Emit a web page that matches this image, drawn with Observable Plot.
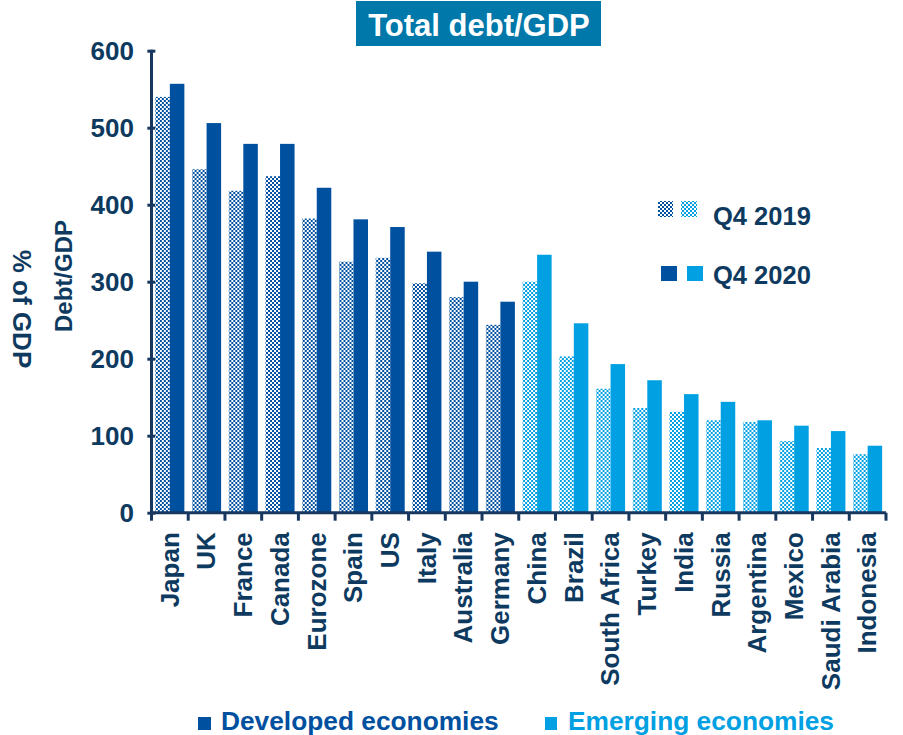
<!DOCTYPE html>
<html>
<head>
<meta charset="utf-8">
<script src="https://cdn.jsdelivr.net/npm/d3@7"></script>
<script src="https://cdn.jsdelivr.net/npm/@observablehq/plot@0.6"></script>
<style>
  body { margin: 0; background: #fff; }
  #wrap { position: relative; width: 903px; height: 735px; font-family: "Liberation Sans", Arial, sans-serif; }
  #overlay { position: absolute; left: 0; top: 0; pointer-events: none; }
</style>
</head>
<body>
<div id="wrap">
  <svg width="0" height="0" style="position:absolute">
    <defs>
      <pattern id="chkDev" width="4" height="4" patternUnits="userSpaceOnUse">
        <rect width="4" height="4" fill="#ffffff"/>
        <rect width="2" height="2" fill="#0050a0"/>
        <rect x="2" y="2" width="2" height="2" fill="#0050a0"/>
      </pattern>
      <pattern id="chkEm" width="4" height="4" patternUnits="userSpaceOnUse">
        <rect width="4" height="4" fill="#ffffff"/>
        <rect width="2" height="2" fill="#00a0e2"/>
        <rect x="2" y="2" width="2" height="2" fill="#00a0e2"/>
      </pattern>
    </defs>
  </svg>
  <div id="chart"></div>
</div>
<script>
const countries = ["Japan","UK","France","Canada","Eurozone","Spain","US","Italy","Australia","Germany",
  "China","Brazil","South Africa","Turkey","India","Russia","Argentina","Mexico","Saudi Arabia","Indonesia"];
const groups = ["Developed","Developed","Developed","Developed","Developed","Developed","Developed","Developed","Developed","Developed",
  "Emerging","Emerging","Emerging","Emerging","Emerging","Emerging","Emerging","Emerging","Emerging","Emerging"];
const q4_2019 = [540,446,418,437,382,326,331,298,280,244,300,203,161,136,131,120,118,93,84,76];
const q4_2020 = [557,506,479,479,422,381,371,339,300,274,335,246,193,172,154,144,120,113,106,87];
const years = ["Q4 2019","Q4 2020"];
const yTicks = [0,100,200,300,400,500,600];

const NAVY = "#0e3a5f";
const DEV = "#0050a0";
const EM = "#00a0e2";

const rows = [];
countries.forEach((c, i) => {
  rows.push({country: c, group: groups[i], year: years[0], value: q4_2019[i]});
  rows.push({country: c, group: groups[i], year: years[1], value: q4_2020[i]});
});

const fills = {
  "Developed|Q4 2019": "url(#chkDev)",
  "Developed|Q4 2020": DEV,
  "Emerging|Q4 2019": "url(#chkEm)",
  "Emerging|Q4 2020": EM
};
const barMarks = Object.entries(fills).map(([k, f]) => {
  const [g, yr] = k.split("|");
  return Plot.barY(rows.filter(d => d.group === g && d.year === yr), {
    fx: "country", x: "year", y: "value", fill: f
  });
});

const chart = Plot.plot({
  width: 903,
  height: 735,
  marginLeft: 151.5,
  marginRight: 17,
  marginTop: 50.7,
  marginBottom: 222.3,
  style: {fontFamily: '"Liberation Sans", Arial, sans-serif', fontSize: "26px", fontWeight: "bold", color: NAVY, background: "transparent"},
  fx: {domain: countries, paddingInner: 0.21, paddingOuter: 0.105, round: false, label: null,
       tickRotate: -90, tickSize: 0, tickPadding: 19, axis: "bottom"},
  x: {domain: years, padding: 0, round: false, axis: null},
  y: {domain: [0, 600], ticks: yTicks, tickSize: 8, tickPadding: 14, label: null, axis: "left"},
  marks: barMarks
});
document.getElementById("chart").appendChild(chart);

// axis lines and group-boundary ticks, from the plot's own scales
const fxs = chart.scale("fx");
const ys = chart.scale("y");
const svg = d3.select(chart);
const gap = (fxs.step - fxs.bandwidth) / 2;
const x0 = fxs.apply(countries[0]) - gap;
const x1 = fxs.apply(countries[countries.length - 1]) + fxs.bandwidth + gap;
const yb = ys.apply(0), yt = ys.apply(600);
const ax = svg.append("g").attr("stroke", "#17375e").attr("stroke-width", 3).attr("fill", "none");
ax.append("line").attr("x1", x0).attr("x2", x0).attr("y1", yt - 1).attr("y2", yb);
ax.append("line").attr("x1", x0).attr("x2", x1).attr("y1", yb).attr("y2", yb);
const bounds = countries.map(c => fxs.apply(c) - gap).concat([x1]);
ax.selectAll(null).data(bounds).join("line")
  .attr("x1", d => d).attr("x2", d => d).attr("y1", yb).attr("y2", yb + 8);
svg.selectAll('[aria-label="y-axis tick"] path, [aria-label="y-axis tick"]').attr("stroke-width", 3).attr("stroke", "#17375e");

// overlay: title, axis labels, legends
const ov = d3.select("#wrap").append("svg").attr("id", "overlay").attr("width", 903).attr("height", 735)
  .style("font-family", '"Liberation Sans", Arial, sans-serif').style("font-weight", "bold");
ov.append("rect").attr("x", 356).attr("y", 1).attr("width", 245).attr("height", 45).attr("fill", "#0078aa");
ov.append("text").attr("x", 479).attr("y", 36).attr("text-anchor", "middle").attr("fill", "#fff")
  .style("font-size", "31px").text("Total debt/GDP");

ov.append("text").attr("transform", "translate(72,276) rotate(-90)").attr("text-anchor", "middle")
  .attr("fill", NAVY).style("font-size", "24px").text("Debt/GDP");
ov.append("text").attr("transform", "translate(13,309) rotate(90)").attr("text-anchor", "middle")
  .attr("fill", NAVY).style("font-size", "26px").text("% of GDP");

// year legend
ov.append("rect").attr("x", 658).attr("y", 201).attr("width", 15).attr("height", 16).attr("fill", "url(#chkDev)");
ov.append("rect").attr("x", 681).attr("y", 201).attr("width", 16).attr("height", 16).attr("fill", "url(#chkEm)");
ov.append("text").attr("x", 713).attr("y", 225).attr("fill", NAVY).style("font-size", "25.5px").text(years[0]);
ov.append("rect").attr("x", 661).attr("y", 266).attr("width", 16).attr("height", 15).attr("fill", DEV);
ov.append("rect").attr("x", 687).attr("y", 266).attr("width", 16).attr("height", 15).attr("fill", EM);
ov.append("text").attr("x", 713).attr("y", 284).attr("fill", NAVY).style("font-size", "25.5px").text(years[1]);

// group legend
ov.append("rect").attr("x", 198).attr("y", 717).attr("width", 13).attr("height", 13).attr("fill", DEV);
ov.append("text").attr("x", 221).attr("y", 730).attr("fill", DEV).style("font-size", "26.3px").text("Developed economies");
ov.append("rect").attr("x", 545).attr("y", 717).attr("width", 12).attr("height", 13).attr("fill", EM);
ov.append("text").attr("x", 568).attr("y", 730).attr("fill", EM).style("font-size", "26.3px").text("Emerging economies");
</script>
</body>
</html>
